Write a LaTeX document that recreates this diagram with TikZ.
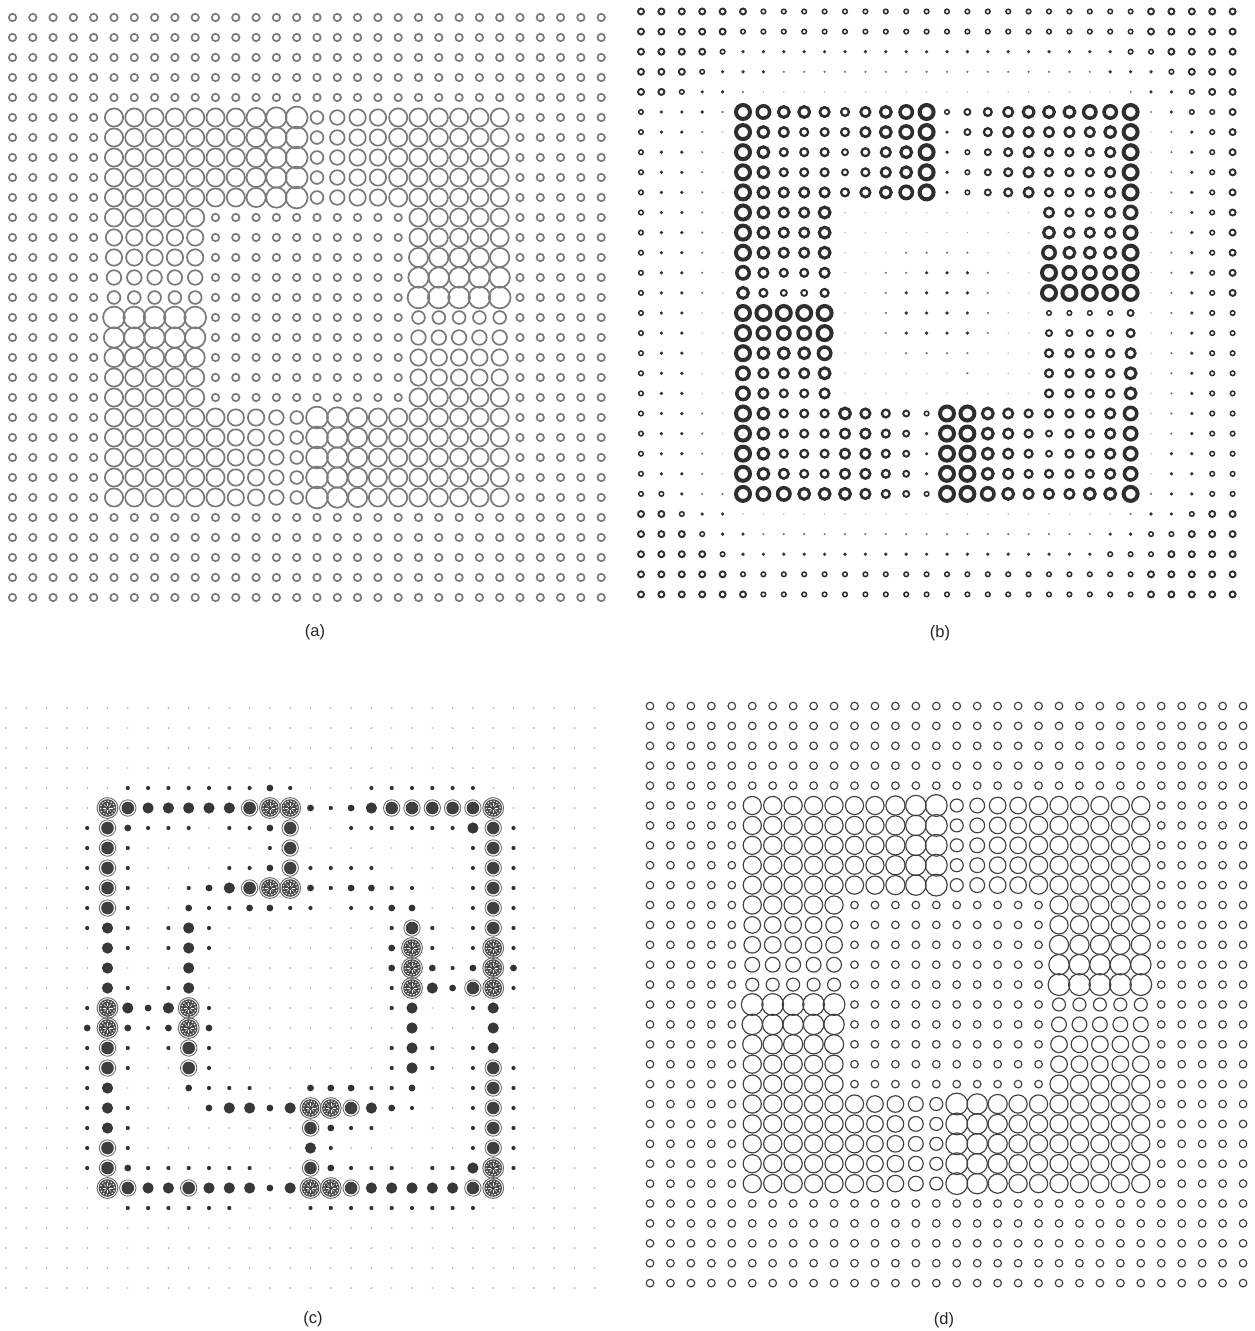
\documentclass[tikz,border=0pt]{standalone}
\usepackage{fontspec}
\setmainfont{Liberation Sans}
\tikzset{
  ring a/.style={draw=black!52, line width=1.7pt},
  ring d/.style={draw=black!75, line width=1.15pt},
  lbl/.style={font=\fontsize{16.5}{20}\selectfont, inner sep=0pt, text=black!85},
}
\def\mapA{%
{0,0,0,0,0, 0,0,0,0,0, 0,0,0,0,0, 0,0,0,0,0, 0,0,0,0,0, 0,0,0,0,0},%
{0,0,0,0,0, 0,0,0,0,0, 0,0,0,0,0, 0,0,0,0,0, 0,0,0,0,0, 0,0,0,0,0},%
{0,0,0,0,0, 0,0,0,0,0, 0,0,0,0,0, 0,0,0,0,0, 0,0,0,0,0, 0,0,0,0,0},%
{0,0,0,0,0, 0,0,0,0,0, 0,0,0,0,0, 0,0,0,0,0, 0,0,0,0,0, 0,0,0,0,0},%
{0,0,0,0,0, 0,0,0,0,0, 0,0,0,0,0, 0,0,0,0,0, 0,0,0,0,0, 0,0,0,0,0},%
{0,0,0,0,0, 6,6,6,6,6, 6,6,7,8,9, 3,4,5,5,6, 6,6,6,6,6, 0,0,0,0,0},%
{0,0,0,0,0, 6,6,6,6,6, 6,6,7,8,9, 3,4,5,5,6, 6,6,6,6,6, 0,0,0,0,0},%
{0,0,0,0,0, 6,6,6,6,6, 6,6,7,8,9, 3,4,5,5,6, 6,6,6,6,6, 0,0,0,0,0},%
{0,0,0,0,0, 6,6,6,6,6, 6,6,7,8,9, 3,4,5,5,6, 6,6,6,6,6, 0,0,0,0,0},%
{0,0,0,0,0, 6,6,6,6,6, 6,6,7,8,9, 3,4,5,5,6, 6,6,6,6,6, 0,0,0,0,0},%
{0,0,0,0,0, 6,6,6,6,6, 0,0,0,0,0, 0,0,0,0,0, 6,6,6,6,6, 0,0,0,0,0},%
{0,0,0,0,0, 5,5,5,5,5, 0,0,0,0,0, 0,0,0,0,0, 6,6,6,6,6, 0,0,0,0,0},%
{0,0,0,0,0, 5,5,5,5,5, 0,0,0,0,0, 0,0,0,0,0, 7,7,7,7,7, 0,0,0,0,0},%
{0,0,0,0,0, 4,4,4,4,4, 0,0,0,0,0, 0,0,0,0,0, 8,8,8,8,8, 0,0,0,0,0},%
{0,0,0,0,0, 3,3,3,3,3, 0,0,0,0,0, 0,0,0,0,0, 9,9,9,9,9, 0,0,0,0,0},%
{0,0,0,0,0, 9,9,9,9,9, 0,0,0,0,0, 0,0,0,0,0, 3,3,3,3,3, 0,0,0,0,0},%
{0,0,0,0,0, 8,8,8,8,8, 0,0,0,0,0, 0,0,0,0,0, 4,4,4,4,4, 0,0,0,0,0},%
{0,0,0,0,0, 7,7,7,7,7, 0,0,0,0,0, 0,0,0,0,0, 5,5,5,5,5, 0,0,0,0,0},%
{0,0,0,0,0, 6,6,6,6,6, 0,0,0,0,0, 0,0,0,0,0, 5,5,5,5,5, 0,0,0,0,0},%
{0,0,0,0,0, 6,6,6,6,6, 0,0,0,0,0, 0,0,0,0,0, 6,6,6,6,6, 0,0,0,0,0},%
{0,0,0,0,0, 6,6,6,6,6, 6,5,5,4,3, 9,8,7,6,6, 6,6,6,6,6, 0,0,0,0,0},%
{0,0,0,0,0, 6,6,6,6,6, 6,5,5,4,3, 9,8,7,6,6, 6,6,6,6,6, 0,0,0,0,0},%
{0,0,0,0,0, 6,6,6,6,6, 6,5,5,4,3, 9,8,7,6,6, 6,6,6,6,6, 0,0,0,0,0},%
{0,0,0,0,0, 6,6,6,6,6, 6,5,5,4,3, 9,8,7,6,6, 6,6,6,6,6, 0,0,0,0,0},%
{0,0,0,0,0, 6,6,6,6,6, 6,5,5,4,3, 9,8,7,6,6, 6,6,6,6,6, 0,0,0,0,0},%
{0,0,0,0,0, 0,0,0,0,0, 0,0,0,0,0, 0,0,0,0,0, 0,0,0,0,0, 0,0,0,0,0},%
{0,0,0,0,0, 0,0,0,0,0, 0,0,0,0,0, 0,0,0,0,0, 0,0,0,0,0, 0,0,0,0,0},%
{0,0,0,0,0, 0,0,0,0,0, 0,0,0,0,0, 0,0,0,0,0, 0,0,0,0,0, 0,0,0,0,0},%
{0,0,0,0,0, 0,0,0,0,0, 0,0,0,0,0, 0,0,0,0,0, 0,0,0,0,0, 0,0,0,0,0},%
{0,0,0,0,0, 0,0,0,0,0, 0,0,0,0,0, 0,0,0,0,0, 0,0,0,0,0, 0,0,0,0,0}}
\def\mapB{%
{4,4,4,4,4, 4,3,3,3,3, 3,3,3,3,3, 3,3,3,3,3, 3,3,3,3,3, 4,4,4,4,4},%
{4,4,4,4,4, 3,3,3,3,3, 3,3,3,3,3, 3,3,3,3,3, 3,3,3,3,3, 4,4,4,4,4},%
{4,4,4,4,3, 2,2,2,2,2, 2,2,2,2,2, 2,2,2,2,2, 2,2,2,2,3, 3,4,4,4,4},%
{4,4,4,3,2, 2,2,1,1,1, 1,1,1,1,1, 1,1,1,1,1, 1,1,1,2,2, 2,3,4,4,4},%
{4,4,3,2,2, 1,0,0,0,0, 0,0,0,0,0, 0,0,0,0,0, 0,0,0,0,1, 2,2,3,4,4},%
{3,2,2,2,1, 9,8,7,7,6, 5,6,7,8,9, 3,4,5,6,7, 7,7,8,8,9, 1,2,3,3,4},%
{3,2,2,1,0, 9,7,6,5,5, 5,6,7,8,9, 2,4,5,6,6, 6,6,6,7,9, 0,1,2,3,4},%
{3,2,2,1,0, 9,7,5,5,5, 4,5,6,7,9, 2,3,4,5,6, 5,5,5,6,9, 0,1,2,3,4},%
{3,2,2,1,0, 9,7,5,5,5, 4,5,6,7,9, 2,3,4,5,6, 5,5,5,6,9, 0,1,2,3,4},%
{3,2,2,1,0, 9,7,6,6,6, 5,6,7,8,9, 2,3,4,5,6, 5,5,5,6,9, 0,1,2,3,4},%
{3,2,2,1,0, 9,7,6,6,7, 0,0,0,0,0, 0,0,0,0,0, 6,5,5,6,8, 0,1,2,3,4},%
{3,2,2,1,0, 9,7,6,6,7, 0,0,0,0,0, 0,0,0,0,0, 7,6,6,6,8, 0,1,2,3,4},%
{3,2,2,1,0, 9,7,6,6,7, 0,0,0,1,1, 1,1,0,0,0, 8,7,7,7,9, 0,1,2,3,4},%
{3,2,2,1,0, 8,6,5,5,6, 0,0,1,1,2, 2,2,1,0,0, 9,8,8,8,9, 0,1,2,3,4},%
{3,2,2,1,0, 7,5,4,4,5, 0,0,1,2,2, 2,2,1,0,0, 9,9,9,9,9, 0,1,2,3,4},%
{3,2,2,0,0, 9,9,9,9,9, 0,0,1,2,2, 2,2,1,0,0, 3,3,3,3,4, 0,1,2,3,3},%
{3,2,2,0,0, 9,8,8,8,9, 0,0,1,2,2, 2,2,1,0,0, 4,4,4,4,5, 0,1,2,3,3},%
{3,2,2,0,0, 9,7,7,7,8, 0,0,0,1,1, 1,1,0,0,0, 5,5,5,5,6, 0,1,2,3,3},%
{3,2,2,0,0, 8,6,6,6,7, 0,0,0,0,0, 0,1,0,0,0, 5,5,5,5,7, 0,1,2,3,3},%
{3,2,2,0,0, 8,6,5,5,6, 0,0,0,0,0, 0,0,0,0,0, 5,5,5,5,7, 0,1,2,3,3},%
{3,2,2,1,0, 9,7,5,5,5, 7,6,5,4,3, 9,9,7,6,5, 5,5,5,6,8, 0,1,2,3,3},%
{3,2,2,1,0, 9,7,5,5,5, 6,6,5,4,2, 9,9,7,6,5, 4,5,5,6,8, 0,1,2,3,3},%
{3,2,2,1,0, 9,7,5,5,5, 6,6,5,4,2, 9,9,7,6,5, 4,5,5,6,8, 0,2,2,3,3},%
{3,2,2,1,0, 9,7,6,5,5, 6,6,5,4,2, 9,9,7,6,5, 5,5,5,6,8, 0,2,2,3,3},%
{3,3,2,1,1, 9,8,8,7,7, 7,6,5,4,3, 9,9,8,7,6, 6,6,7,7,9, 1,2,2,3,3},%
{4,4,3,2,2, 0,0,0,0,0, 0,0,0,0,0, 0,0,0,0,0, 0,0,0,0,1, 2,2,3,4,4},%
{4,4,4,3,2, 2,1,1,1,1, 1,1,1,1,1, 1,1,1,1,1, 1,1,1,2,2, 3,3,4,4,4},%
{4,4,4,4,3, 2,2,2,2,2, 2,2,2,2,2, 2,2,2,2,2, 2,2,2,3,3, 3,4,4,4,4},%
{4,4,4,4,4, 3,3,3,3,3, 3,3,3,3,3, 3,3,3,3,3, 3,3,3,3,3, 4,4,4,4,4},%
{4,4,4,4,4, 4,3,3,3,3, 3,3,3,3,3, 3,3,3,3,3, 3,3,3,3,3, 4,4,4,4,4}}
\def\mapC{%
{0,0,0,0,0, 0,0,0,0,0, 0,0,0,0,0, 0,0,0,0,0, 0,0,0,0,0, 0,0,0,0,0},%
{0,0,0,0,0, 0,0,0,0,0, 0,0,0,0,0, 0,0,0,0,0, 0,0,0,0,0, 0,0,0,0,0},%
{0,0,0,0,0, 0,0,0,0,0, 0,0,0,0,0, 0,0,0,0,0, 0,0,0,0,0, 0,0,0,0,0},%
{0,0,0,0,0, 0,0,0,0,0, 0,0,0,0,0, 0,0,0,0,0, 0,0,0,0,0, 0,0,0,0,0},%
{0,0,0,0,0, 0,1,1,1,1, 1,1,1,2,1, 0,0,0,1,1, 1,1,1,1,0, 0,0,0,0,0},%
{0,0,0,0,0, 5,4,3,3,3, 3,3,4,5,5, 2,1,2,3,4, 4,4,4,4,5, 0,0,0,0,0},%
{0,0,0,0,1, 4,2,1,1,1, 0,1,1,2,4, 0,0,1,1,1, 1,1,1,3,4, 1,0,0,0,0},%
{0,0,0,0,1, 4,1,0,0,0, 0,0,0,1,4, 0,0,0,0,0, 0,0,0,1,4, 1,0,0,0,0},%
{0,0,0,0,1, 4,1,0,0,0, 0,1,1,2,4, 1,1,1,1,0, 0,0,0,1,4, 1,0,0,0,0},%
{0,0,0,0,1, 4,1,0,0,1, 2,3,4,5,5, 2,1,2,2,1, 1,0,0,1,4, 1,0,0,0,0},%
{0,0,0,0,1, 4,1,0,0,2, 1,1,2,2,1, 1,0,1,1,2, 2,0,0,1,4, 1,0,0,0,0},%
{0,0,0,0,1, 3,1,0,1,3, 1,0,0,0,0, 0,0,0,0,1, 4,1,0,1,4, 1,0,0,0,0},%
{0,0,0,0,0, 3,1,0,1,3, 1,0,0,0,0, 0,0,0,0,2, 5,1,0,1,5, 1,0,0,0,0},%
{0,0,0,0,0, 3,0,0,0,3, 0,0,0,0,0, 0,0,0,0,2, 5,2,1,2,5, 2,0,0,0,0},%
{0,0,0,0,0, 3,1,0,1,3, 0,0,0,0,0, 0,0,0,0,1, 5,3,2,4,5, 1,0,0,0,0},%
{0,0,0,0,1, 5,3,2,3,5, 1,0,0,0,0, 0,0,0,0,1, 3,0,0,1,3, 0,0,0,0,0},%
{0,0,0,0,2, 5,2,1,2,5, 2,0,0,0,0, 0,0,0,0,0, 3,0,0,0,3, 0,0,0,0,0},%
{0,0,0,0,1, 4,1,0,1,4, 1,0,0,0,0, 0,0,0,0,1, 3,1,0,1,3, 0,0,0,0,0},%
{0,0,0,0,1, 4,1,0,0,4, 1,0,0,0,0, 0,0,0,0,1, 3,1,0,1,4, 1,0,0,0,0},%
{0,0,0,0,1, 3,0,0,0,2, 1,1,1,0,0, 2,2,2,1,1, 2,0,0,1,4, 1,0,0,0,0},%
{0,0,0,0,1, 3,1,0,0,0, 2,3,3,2,3, 5,5,4,3,2, 1,0,0,1,4, 1,0,0,0,0},%
{0,0,0,0,1, 3,1,0,0,0, 0,0,0,0,0, 4,2,1,1,0, 0,0,0,1,4, 1,0,0,0,0},%
{0,0,0,0,1, 4,1,0,0,0, 0,0,0,0,0, 3,1,0,0,0, 0,0,0,1,4, 1,0,0,0,0},%
{0,0,0,0,1, 4,2,1,1,1, 1,1,1,0,0, 4,2,1,1,1, 0,1,1,3,5, 1,0,0,0,0},%
{0,0,0,0,0, 5,4,3,3,4, 3,3,3,2,3, 5,5,4,3,3, 3,3,3,4,5, 0,0,0,0,0},%
{0,0,0,0,0, 0,1,1,1,1, 1,1,0,0,0, 1,1,1,1,1, 1,1,1,1,0, 0,0,0,0,0},%
{0,0,0,0,0, 0,0,0,0,0, 0,0,0,0,0, 0,0,0,0,0, 0,0,0,0,0, 0,0,0,0,0},%
{0,0,0,0,0, 0,0,0,0,0, 0,0,0,0,0, 0,0,0,0,0, 0,0,0,0,0, 0,0,0,0,0},%
{0,0,0,0,0, 0,0,0,0,0, 0,0,0,0,0, 0,0,0,0,0, 0,0,0,0,0, 0,0,0,0,0},%
{0,0,0,0,0, 0,0,0,0,0, 0,0,0,0,0, 0,0,0,0,0, 0,0,0,0,0, 0,0,0,0,0}}
% #1 x0, #2 dx, #3 y0, #4 dy, #5 map, #6 code for one cell (uses \px \py \v)
\newcommand\gridpanel[6]{%
  \foreach \rowdata [count=\ri from 0] in #5 {%
    \foreach \v [count=\ci from 0] in \rowdata {%
      \pgfmathsetmacro\px{#1+\ci*#2}%
      \pgfmathsetmacro\py{#3+\ri*#4}%
      #6%
    }%
  }%
}
\begin{document}
\begin{tikzpicture}[x=1pt,y=-1pt]
\useasboundingbox (0,0) rectangle (1254,1331);
\fill[white] (0,0) rectangle (1254,1331);
% (a)
\gridpanel{12.5}{20.3}{17.5}{20}{\mapA}{%
  \pgfmathsetmacro\rad{{3.7,4.6,5.5,6.4,7.3,8.2,9.1,9.6,10.2,10.9}[\v]}%
  \draw[ring a] (\px,\py) circle[radius=\rad pt];}
% (b)
\gridpanel{641}{20.4}{11.5}{20.1}{\mapB}{%
  \ifnum\v<3
    \ifcase\v \def\bcol{black!30}\or\def\bcol{black!55}\or\def\bcol{black!80}\fi
    \pgfmathsetmacro\rad{{0.8,1.2,1.8}[\v]}%
    \fill[\bcol] (\px,\py) circle[radius=\rad pt];
  \else
    \pgfmathsetmacro\rad{{0,0,0,2.3,3.0,3.9,4.7,5.4,6.2,7.0}[\v]}%
    \pgfmathsetmacro\lw{{0,0,0,1.5,1.9,2.3,2.7,3.1,3.5,4.0}[\v]}%
    \draw[black!82, line width=\lw pt] (\px,\py) circle[radius=\rad pt];
  \fi}
% (c)
\gridpanel{6}{20.3}{708}{20}{\mapC}{%
  \ifcase\v
    \fill[black!35] (\px,\py) circle[radius=0.9pt];
  \or
    \fill[black!80] (\px,\py) circle[radius=2.1pt];
  \or
    \fill[black!80] (\px,\py) circle[radius=3.4pt];
  \or
    \fill[black!78] (\px,\py) circle[radius=5.6pt];
  \or
    \fill[black!75] (\px,\py) circle[radius=6.3pt];
    \draw[black!60, line width=0.8pt] (\px,\py) circle[radius=8.2pt];
  \or
    \fill[black!72] (\px,\py) circle[radius=8.8pt];
    \draw[black!60, line width=0.9pt] (\px,\py) circle[radius=10.4pt];
    \draw[white, line width=1.1pt, dash pattern=on 1.4pt off 1.7pt] (\px,\py) circle[radius=7.0pt];
    \foreach \a in {0,45,...,315}
      \draw[white, line width=0.5pt] (\px,\py) ++(\a:1.8pt) -- ++(\a:3.2pt);
  \fi}
% (d)
\gridpanel{650}{20.45}{706}{19.9}{\mapA}{%
  \pgfmathsetmacro\rad{{3.8,4.7,5.6,6.5,7.4,8.3,9.1,9.6,10.2,10.9}[\v]}%
  \draw[ring d] (\px,\py) circle[radius=\rad pt];}
\node[lbl] (la) at (315,632) {(a)};
\node[lbl] (lb) at (940,633) {(b)};
\node[lbl] (lc) at (313,1319) {(c)};
\node[lbl] (ld) at (944,1320) {(d)};
\end{tikzpicture}
\end{document}
